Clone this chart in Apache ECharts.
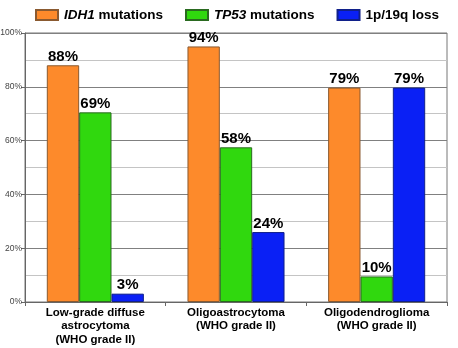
<!DOCTYPE html>
<html><head><meta charset="utf-8">
<script src="https://cdn.jsdelivr.net/npm/echarts@6/dist/echarts.min.js"></script>
<style>html,body{margin:0;padding:0;background:#fff}#c{width:458px;height:348px}</style>
</head><body><div id="c"></div>
<script>
const categories = ['Low-grade diffuse\nastrocytoma\n(WHO grade II)', 'Oligoastrocytoma\n(WHO grade II)', 'Oligodendroglioma\n(WHO grade II)'];
const idh1Values = [88, 95, 79.7];
const tp53Values = [70.5, 57.5, 9.5];
const lossValues = [3.1, 26, 79.7];
const idh1Labels = ['88%', '94%', '79%'];
const tp53Labels = ['69%', '58%', '10%'];
const lossLabels = ['3%', '24%', '79%'];
const yTicks = ['0%', '20%', '40%', '60%', '80%', '100%'];

function mk(name, vals, labs, color, border) {
  return {
    name: name, type: 'bar', data: vals,
    barGap: 0, barCategoryGap: '31%',
    itemStyle: {color: color, borderColor: border, borderWidth: 1},
    label: {show: true, position: 'top', distance: 1,
      formatter: p => labs[p.dataIndex],
      fontFamily: 'Liberation Sans', fontWeight: 'bold', fontSize: 15, color: '#000'}
  };
}
const chart = echarts.init(document.getElementById('c'), null, {renderer: 'canvas'});
chart.setOption({
  animation: false,
  grid: {left: 25, right: 11, top: 33, bottom: 46, show: true, borderColor: '#777', borderWidth: 1, outerBoundsMode: 'none', containLabel: false},
  legend: {
    top: 3, left: 30, width: 440, itemWidth: 22, itemHeight: 10, itemGap: 22,
    icon: 'rect',
    data: ['IDH1 mutations', 'TP53 mutations', '1p/19q loss'],
    formatter: function (n) {
      if (n === 'IDH1 mutations') return '{i|IDH1} mutations';
      if (n === 'TP53 mutations') return '{i|TP53} mutations';
      return n;
    },
    textStyle: {fontFamily: 'Liberation Sans', fontWeight: 'bold', fontSize: 13.5, color: '#000', padding: [0, 0, 0, 1],
      rich: {i: {fontFamily: 'Liberation Sans', fontWeight: 'bold', fontStyle: 'italic', fontSize: 13.5, color: '#000'}}}
  },
  xAxis: {
    type: 'category', data: categories,
    axisLine: {lineStyle: {color: '#666'}},
    axisTick: {show: true, length: 4, lineStyle: {color: '#666'}},
    axisLabel: {margin: 4, fontFamily: 'Liberation Sans', fontWeight: 'bold', fontSize: 11.5, lineHeight: 13.5, color: '#000'}
  },
  yAxis: {
    type: 'value', min: 0, max: 100, interval: 20,
    axisLine: {show: true, lineStyle: {color: '#666'}},
    axisTick: {show: true, length: 4, lineStyle: {color: '#666'}},
    minorTick: {show: false, splitNumber: 2},
    minorSplitLine: {show: true, lineStyle: {color: '#c4c4c4'}},
    splitLine: {show: true, lineStyle: {color: '#808080'}},
    axisLabel: {margin: 3, fontFamily: 'Liberation Sans', fontSize: 8.5, color: '#444',
      formatter: v => yTicks[Math.round(v / 20)]}
  },
  series: [
    mk('IDH1 mutations', idh1Values, idh1Labels, '#FD8A2B', '#8a5a30'),
    mk('TP53 mutations', tp53Values, tp53Labels, '#30D80E', '#2a6a20'),
    mk('1p/19q loss', lossValues, lossLabels, '#0A20F5', '#10208a')
  ]
});
</script></body></html>
